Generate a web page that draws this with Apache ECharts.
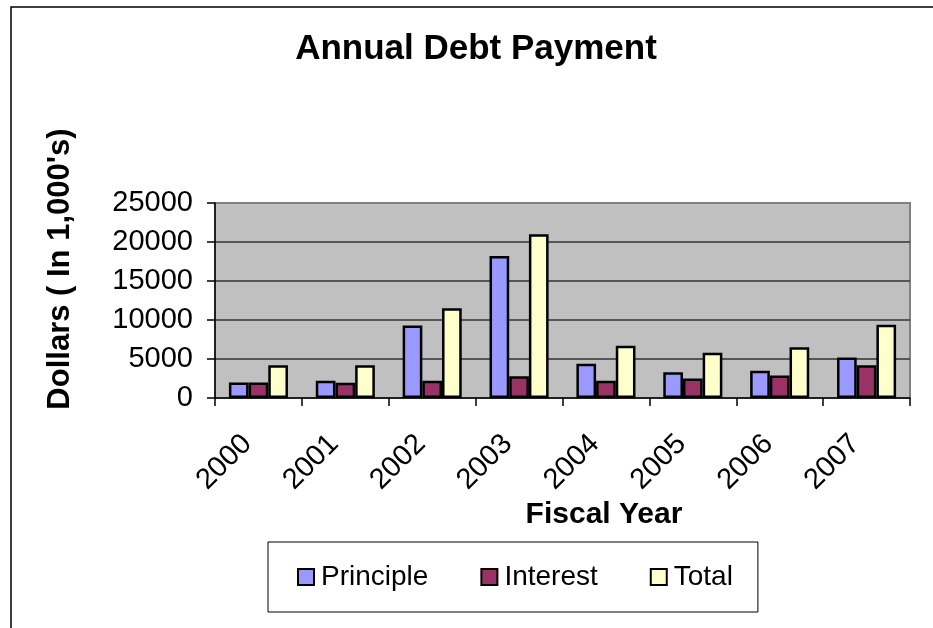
<!DOCTYPE html>
<html>
<head>
<meta charset="utf-8">
<script src="https://cdn.jsdelivr.net/npm/echarts@6/dist/echarts.min.js"></script>
<style>
html,body{margin:0;padding:0;background:#fff;}
#chart{width:933px;height:628px;}
</style>
</head>
<body>
<div id="chart"></div>
<script>
const years = ['2000','2001','2002','2003','2004','2005','2006','2007'];
const principle = [2000, 2200, 9300, 18200, 4400, 3300, 3500, 5200];
const interest  = [2000, 1950, 2200, 2800, 2200, 2500, 2900, 4200];
const total     = [4200, 4200, 11500, 21000, 6700, 5800, 6500, 9400];
const seriesNames = ['Principle', 'Interest', 'Total'];
const seriesColors = ['#9999FF', '#993366', '#FFFFCC'];

const FONT = 'Liberation Sans, Arial, sans-serif';
const chart = echarts.init(document.getElementById('chart'), null, {renderer: 'canvas'});

const seriesData = [principle, interest, total];
const option = {
  animation: false,
  backgroundColor: '#ffffff',
  title: {
    text: 'Annual Debt Payment',
    left: 476,
    textAlign: 'center',
    top: 32,
    padding: 0,
    textStyle: {fontFamily: FONT, fontSize: 35, fontWeight: 'bold', color: '#000'}
  },
  graphic: [
    {type: 'rect', z: -10, silent: true,
     shape: {x: 11, y: 7, width: 1000, height: 800},
     style: {fill: 'none', stroke: '#000', lineWidth: 1.5}},
    {type: 'text', x: 60, y: 269, rotation: Math.PI / 2,
     style: {text: "Dollars ( In 1,000's)", fontFamily: FONT, fontSize: 31, fontWeight: 'bold',
             fill: '#000', align: 'center', verticalAlign: 'middle'}},
    {type: 'text', x: 604, y: 515,
     style: {text: 'Fiscal Year', fontFamily: FONT, fontSize: 30, fontWeight: 'bold',
             fill: '#000', align: 'center', verticalAlign: 'middle'}}
  ],
  legend: {
    data: seriesNames,
    left: 268,
    top: 542,
    orient: 'horizontal',
    itemWidth: 16,
    itemHeight: 16,
    itemGap: 52,
    padding: [21, 25, 21, 29],
    borderColor: '#000',
    borderWidth: 1,
    backgroundColor: '#fff',
    icon: 'rect',
    textStyle: {fontFamily: FONT, fontSize: 28, color: '#000', lineHeight: 28, padding: [0, 0, 0, 2]}
  },
  grid: {
    left: 215, top: 203, right: 23, bottom: 230,
    show: true,
    backgroundColor: '#C0C0C0',
    borderColor: '#808080',
    borderWidth: 2,
    containLabel: false
  },
  xAxis: {
    type: 'category',
    data: years,
    boundaryGap: true,
    axisLine: {show: true, lineStyle: {color: '#000', width: 1.5}},
    axisTick: {show: true, length: 8, lineStyle: {color: '#000', width: 1.5}},
    axisLabel: {
      rotate: 45, margin: 30, interval: 0,
      padding: [0, 16, 0, 0],
      fontFamily: FONT, fontSize: 29, color: '#000'
    }
  },
  yAxis: {
    type: 'value',
    min: 0, max: 25000, interval: 5000,
    axisLine: {show: true, lineStyle: {color: '#000', width: 1.5}},
    axisTick: {show: true, length: 8, lineStyle: {color: '#000', width: 1.5}},
    axisLabel: {margin: 22, fontFamily: FONT, fontSize: 29, color: '#000',
                formatter: v => String(v)},
    splitLine: {show: true, showMinLine: false, showMaxLine: false, lineStyle: {color: '#333', width: 1.5}}
  },
  series: seriesNames.map((name, i) => ({
    name: name,
    type: 'bar',
    data: seriesData[i],
    barGap: '0%',
    barCategoryGap: '32%',
    itemStyle: {color: seriesColors[i], borderColor: '#000', borderWidth: 2.5}
  }))
};
chart.setOption(option);
</script>
</body>
</html>
